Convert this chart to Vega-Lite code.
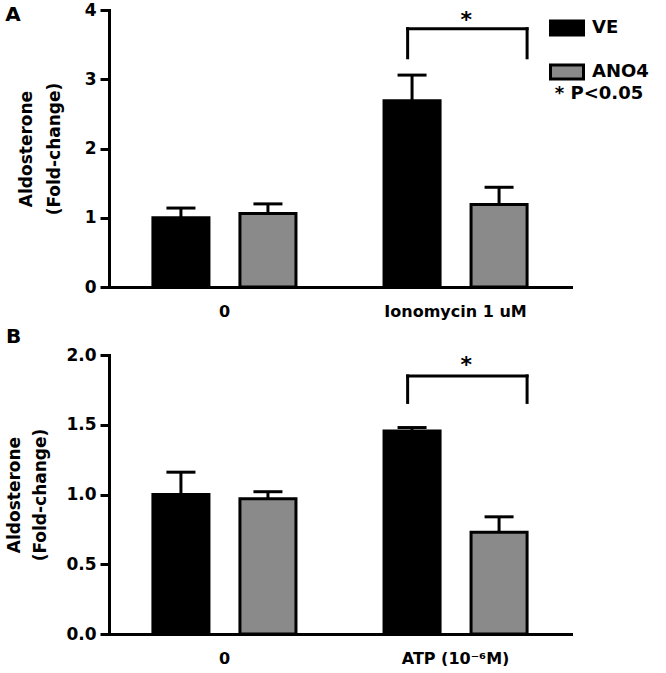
{
  "$schema": "https://vega.github.io/schema/vega-lite/v6.json",
  "background": "white",
  "padding": {"left": 5, "top": 1, "right": 0, "bottom": 0},
  "spacing": 8,
  "datasets": {
    "barsA": [
      {"group": "0", "series": "VE", "mean": 1.0, "upper": 1.14},
      {"group": "0", "series": "ANO4", "mean": 1.06, "upper": 1.2},
      {"group": "Ionomycin 1 uM", "series": "VE", "mean": 2.69, "upper": 3.06},
      {"group": "Ionomycin 1 uM", "series": "ANO4", "mean": 1.19, "upper": 1.44}
    ],
    "bracketA": [
      {"group": "Ionomycin 1 uM", "top": 3.73, "bottom": 3.31, "star": 3.86, "label": "*"}
    ],
    "barsB": [
      {"group": "0", "series": "VE", "mean": 1.0, "upper": 1.16},
      {"group": "0", "series": "ANO4", "mean": 0.97, "upper": 1.02},
      {"group": "ATP (10⁻⁶M)", "series": "VE", "mean": 1.455, "upper": 1.48},
      {"group": "ATP (10⁻⁶M)", "series": "ANO4", "mean": 0.73, "upper": 0.84}
    ],
    "bracketB": [
      {"group": "ATP (10⁻⁶M)", "top": 1.85, "bottom": 1.66, "star": 1.93, "label": "*"}
    ]
  },
  "config": {
    "view": {"stroke": null},
    "font": "DejaVu Sans",
    "axis": {
      "domainColor": "black", "domainWidth": 3, "tickColor": "black", "tickWidth": 3, "tickSize": 9,
      "labelFont": "DejaVu Sans", "labelFontWeight": "bold", "labelFontSize": 17, "labelColor": "black",
      "titleFont": "DejaVu Sans", "titleFontWeight": "bold", "titleFontSize": 17, "titleColor": "black",
      "grid": false
    },
    "axisX": {"ticks": false, "labelAngle": 0, "labelPadding": 16, "labelFontSize": 16, "title": null, "domainCap": "square"},
    "axisY": {"labelPadding": 4, "domainCap": "square"}
  },
  "resolve": {"scale": {"x": "independent", "y": "independent", "xOffset": "independent"}, "axis": {"x": "independent", "y": "independent"}},
  "vconcat": [
    {
      "width": 462,
      "height": 277,
      "title": {"text": "A", "anchor": "start", "frame": "bounds", "offset": -24, "dx": -12, "fontSize": 20, "font": "DejaVu Sans", "fontWeight": "bold", "color": "black"},
      "layer": [
        {
          "data": {"name": "barsA"},
          "mark": {"type": "bar", "stroke": "black", "strokeWidth": 3},
          "encoding": {
            "x": {"field": "group", "type": "nominal", "scale": {"domain": ["0", "Ionomycin 1 uM"], "paddingInner": 0.381, "paddingOuter": 0.19}, "axis": {"title": null}},
            "xOffset": {"field": "series", "type": "nominal", "scale": {"domain": ["VE", "ANO4"], "paddingInner": 0.356, "paddingOuter": 0}},
            "y": {"field": "mean", "type": "quantitative", "scale": {"domain": [0, 4], "nice": false}, "axis": {"values": [0, 1, 2, 3, 4], "format": "d", "title": ["Aldosterone", "(Fold-change)"], "titlePadding": 21, "titleLineHeight": 28}},
            "color": {
              "field": "series", "type": "nominal",
              "scale": {"domain": ["VE", "ANO4"], "range": ["#000000", "#8a8a8a"]},
              "legend": {
                "orient": "none", "legendX": 440, "legendY": 0,
                "title": "* P<0.05", "titleOrient": "bottom", "titleAnchor": "middle", "titlePadding": 0,
                "titleFontSize": 18, "titleFont": "DejaVu Sans", "titleFontWeight": "bold", "titleColor": "black",
                "symbolType": "M-1,-0.42H1V0.42H-1Z", "symbolSize": 1089, "symbolStrokeColor": "black", "symbolStrokeWidth": 3, "symbolOpacity": 1,
                "labelFontSize": 18, "labelFont": "DejaVu Sans", "labelFontWeight": "bold", "labelColor": "black", "labelOffset": 7,
                "rowPadding": 13
              }
            }
          }
        },
        {
          "data": {"name": "barsA"},
          "mark": {"type": "rule", "strokeWidth": 3, "color": "black"},
          "encoding": {
            "x": {"field": "group", "type": "nominal"},
            "xOffset": {"field": "series", "type": "nominal"},
            "y": {"field": "mean", "type": "quantitative"},
            "y2": {"field": "upper"}
          }
        },
        {
          "data": {"name": "barsA"},
          "mark": {"type": "tick", "orient": "horizontal", "thickness": 3, "size": 29, "color": "black", "opacity": 1},
          "encoding": {
            "x": {"field": "group", "type": "nominal"},
            "xOffset": {"field": "series", "type": "nominal"},
            "y": {"field": "upper", "type": "quantitative"}
          }
        },
        {
          "data": {"name": "bracketA"},
          "mark": {"type": "rule", "strokeWidth": 3, "color": "black", "strokeCap": "square"},
          "encoding": {
            "x": {"field": "group", "type": "nominal", "bandPosition": 0.165},
            "x2": {"field": "group", "bandPosition": 1},
            "y": {"field": "top", "type": "quantitative"}
          }
        },
        {
          "data": {"name": "bracketA"},
          "mark": {"type": "rule", "strokeWidth": 3, "color": "black", "strokeCap": "square"},
          "encoding": {
            "x": {"field": "group", "type": "nominal", "bandPosition": 0.165},
            "y": {"field": "top", "type": "quantitative"},
            "y2": {"field": "bottom"}
          }
        },
        {
          "data": {"name": "bracketA"},
          "mark": {"type": "rule", "strokeWidth": 3, "color": "black", "strokeCap": "square"},
          "encoding": {
            "x": {"field": "group", "type": "nominal", "bandPosition": 1},
            "y": {"field": "top", "type": "quantitative"},
            "y2": {"field": "bottom"}
          }
        },
        {
          "data": {"name": "bracketA"},
          "mark": {"type": "text", "fontSize": 22, "fontWeight": "bold", "font": "DejaVu Sans", "color": "black", "baseline": "middle"},
          "encoding": {
            "x": {"field": "group", "type": "nominal", "bandPosition": 0.575},
            "y": {"field": "star", "type": "quantitative"},
            "text": {"field": "label"}
          }
        }
      ]
    },
    {
      "width": 462,
      "height": 279,
      "title": {"text": "B", "anchor": "start", "frame": "bounds", "offset": -1, "dx": 0, "fontSize": 20, "font": "DejaVu Sans", "fontWeight": "bold", "color": "black"},
      "layer": [
        {
          "data": {"name": "barsB"},
          "mark": {"type": "bar", "stroke": "black", "strokeWidth": 3},
          "encoding": {
            "x": {"field": "group", "type": "nominal", "scale": {"domain": ["0", "ATP (10⁻⁶M)"], "paddingInner": 0.381, "paddingOuter": 0.19}, "axis": {"title": null}},
            "xOffset": {"field": "series", "type": "nominal", "scale": {"domain": ["VE", "ANO4"], "paddingInner": 0.356, "paddingOuter": 0}},
            "y": {"field": "mean", "type": "quantitative", "scale": {"domain": [0, 2], "nice": false}, "axis": {"values": [0, 0.5, 1, 1.5, 2], "format": ".1f", "title": ["Aldosterone", "(Fold-change)"], "titlePadding": 16, "titleLineHeight": 26}},
            "color": {"field": "series", "type": "nominal"}
          }
        },
        {
          "data": {"name": "barsB"},
          "mark": {"type": "rule", "strokeWidth": 3, "color": "black"},
          "encoding": {
            "x": {"field": "group", "type": "nominal"},
            "xOffset": {"field": "series", "type": "nominal"},
            "y": {"field": "mean", "type": "quantitative"},
            "y2": {"field": "upper"}
          }
        },
        {
          "data": {"name": "barsB"},
          "mark": {"type": "tick", "orient": "horizontal", "thickness": 3, "size": 29, "color": "black", "opacity": 1},
          "encoding": {
            "x": {"field": "group", "type": "nominal"},
            "xOffset": {"field": "series", "type": "nominal"},
            "y": {"field": "upper", "type": "quantitative"}
          }
        },
        {
          "data": {"name": "bracketB"},
          "mark": {"type": "rule", "strokeWidth": 3, "color": "black", "strokeCap": "square"},
          "encoding": {
            "x": {"field": "group", "type": "nominal", "bandPosition": 0.165},
            "x2": {"field": "group", "bandPosition": 1},
            "y": {"field": "top", "type": "quantitative"}
          }
        },
        {
          "data": {"name": "bracketB"},
          "mark": {"type": "rule", "strokeWidth": 3, "color": "black", "strokeCap": "square"},
          "encoding": {
            "x": {"field": "group", "type": "nominal", "bandPosition": 0.165},
            "y": {"field": "top", "type": "quantitative"},
            "y2": {"field": "bottom"}
          }
        },
        {
          "data": {"name": "bracketB"},
          "mark": {"type": "rule", "strokeWidth": 3, "color": "black", "strokeCap": "square"},
          "encoding": {
            "x": {"field": "group", "type": "nominal", "bandPosition": 1},
            "y": {"field": "top", "type": "quantitative"},
            "y2": {"field": "bottom"}
          }
        },
        {
          "data": {"name": "bracketB"},
          "mark": {"type": "text", "fontSize": 22, "fontWeight": "bold", "font": "DejaVu Sans", "color": "black", "baseline": "middle"},
          "encoding": {
            "x": {"field": "group", "type": "nominal", "bandPosition": 0.575},
            "y": {"field": "star", "type": "quantitative"},
            "text": {"field": "label"}
          }
        }
      ]
    }
  ]
}
